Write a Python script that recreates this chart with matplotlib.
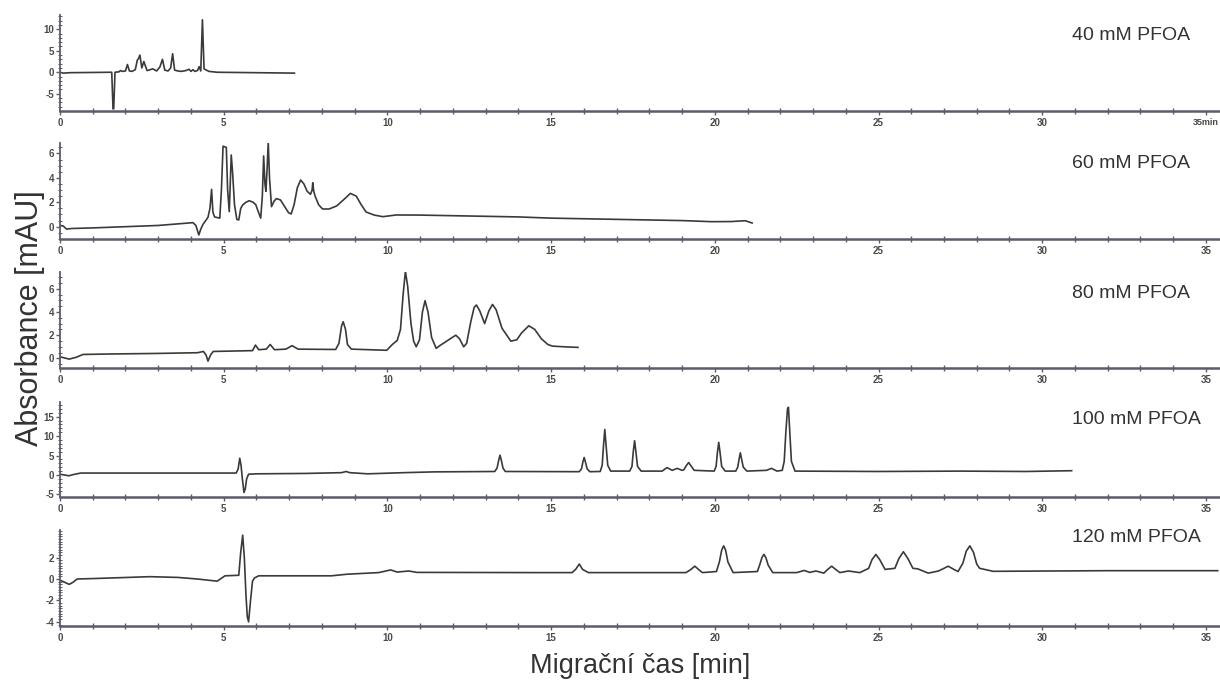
import matplotlib
matplotlib.use("Agg")
import matplotlib.pyplot as plt
from matplotlib.ticker import MultipleLocator

plt.rcParams['font.family'] = ['Liberation Sans', 'DejaVu Sans']

labels = ["40 mM PFOA", "60 mM PFOA", "80 mM PFOA", "100 mM PFOA", "120 mM PFOA"]

trace_40 = [(0.0, 0.0), (0.1, -0.2), (0.3, -0.1), (1.58, 0.0), (1.62, -8.5), (1.64, -8.5),
            (1.68, 0.0), (1.8, 0.1), (1.85, 0.4), (1.9, 0.2), (2.0, 0.3), (2.06, 1.8),
            (2.12, 0.3), (2.2, 0.2), (2.3, 0.6), (2.36, 2.8), (2.4, 3.2), (2.44, 4.0),
            (2.5, 1.0), (2.56, 2.5), (2.62, 1.2), (2.66, 0.4), (2.72, 0.5), (2.83, 0.8),
            (2.95, 0.3), (3.05, 1.2), (3.13, 3.0), (3.2, 0.5), (3.3, 0.3), (3.38, 1.0),
            (3.44, 4.3), (3.5, 0.5), (3.6, 0.3), (3.7, 0.2), (3.85, 0.4), (3.94, 0.7),
            (4.0, 0.2), (4.06, 0.6), (4.12, 0.2), (4.2, 0.4), (4.25, 1.3), (4.3, 0.3),
            (4.35, 12.2), (4.4, 0.8), (4.47, 0.5), (4.55, 0.2), (4.8, 0.0), (6.0, -0.1),
            (7.16, -0.2)]

trace_60 = [(0.0, 0.1), (0.1, 0.05), (0.2, -0.2), (0.35, -0.15), (1.0, -0.1), (2.0, 0.0),
            (3.0, 0.1), (4.06, 0.33), (4.15, 0.1), (4.24, -0.68), (4.3, -0.2), (4.37, 0.2),
            (4.45, 0.5), (4.52, 0.77), (4.58, 1.5), (4.63, 3.06), (4.67, 1.2), (4.72, 0.8),
            (4.8, 0.75), (4.88, 0.7), (4.93, 3.0), (4.98, 6.6), (5.08, 6.5), (5.12, 3.0),
            (5.17, 1.23), (5.2, 3.5), (5.23, 5.88), (5.27, 4.5), (5.33, 1.8), (5.4, 0.6),
            (5.46, 0.55), (5.52, 1.5), (5.58, 1.78), (5.68, 2.0), (5.78, 2.13), (5.9, 2.0),
            (5.98, 1.8), (6.06, 1.2), (6.13, 0.7), (6.18, 2.5), (6.22, 5.8), (6.26, 3.5),
            (6.29, 2.9), (6.33, 5.0), (6.36, 6.9), (6.4, 4.0), (6.46, 1.64), (6.54, 2.1),
            (6.61, 2.3), (6.73, 2.2), (6.85, 1.7), (6.98, 1.15), (7.06, 1.04), (7.15, 1.8),
            (7.25, 3.2), (7.35, 3.83), (7.45, 3.5), (7.55, 2.9), (7.65, 2.65), (7.7, 3.0),
            (7.72, 3.6), (7.75, 2.9), (7.8, 2.45), (7.9, 1.8), (8.02, 1.45), (8.22, 1.45),
            (8.45, 1.7), (8.7, 2.3), (8.87, 2.73), (9.05, 2.5), (9.2, 1.8), (9.35, 1.2),
            (9.6, 0.95), (9.86, 0.82), (10.27, 0.96), (11.0, 0.95), (12.0, 0.9), (13.0, 0.85),
            (14.0, 0.8), (15.0, 0.7), (16.0, 0.65), (17.0, 0.6), (18.0, 0.55), (19.0, 0.5),
            (19.9, 0.41), (20.5, 0.42), (20.93, 0.49), (21.14, 0.3)]

trace_80 = [(0.0, 0.14), (0.28, -0.06), (0.5, 0.1), (0.7, 0.34), (1.5, 0.38), (3.0, 0.43),
            (4.2, 0.49), (4.38, 0.6), (4.46, 0.3), (4.52, -0.23), (4.6, 0.3), (4.68, 0.6),
            (5.88, 0.67), (5.97, 1.15), (6.07, 0.75), (6.3, 0.8), (6.42, 1.2), (6.55, 0.75),
            (6.9, 0.8), (7.09, 1.1), (7.27, 0.8), (8.42, 0.77), (8.52, 1.3), (8.6, 2.8),
            (8.65, 3.16), (8.72, 2.5), (8.78, 1.2), (8.9, 0.8), (9.98, 0.7), (10.15, 1.2),
            (10.3, 1.55), (10.4, 2.5), (10.48, 5.5), (10.55, 7.5), (10.62, 6.2), (10.72, 3.0),
            (10.8, 1.5), (10.88, 1.0), (10.98, 1.6), (11.07, 4.0), (11.15, 4.97), (11.24, 4.0),
            (11.35, 1.8), (11.49, 0.87), (11.6, 1.1), (11.79, 1.45), (11.95, 1.75),
            (12.09, 2.0), (12.2, 1.7), (12.33, 1.0), (12.42, 1.3), (12.55, 3.2), (12.65, 4.4),
            (12.72, 4.6), (12.82, 4.1), (12.97, 3.0), (13.1, 4.1), (13.21, 4.65), (13.32, 4.2),
            (13.5, 2.6), (13.77, 1.49), (13.95, 1.6), (14.1, 2.2), (14.32, 2.81), (14.5, 2.5),
            (14.7, 1.7), (14.9, 1.2), (15.04, 1.06), (15.4, 1.0), (15.82, 0.95)]

trace_100 = [(0.0, 0.2), (0.27, -0.2), (0.45, 0.2), (0.64, 0.5), (3.0, 0.5), (5.38, 0.5),
             (5.44, 1.5), (5.49, 4.3), (5.53, 2.5), (5.57, -1.0), (5.62, -4.5), (5.66, -3.5),
             (5.7, -1.0), (5.76, 0.2), (6.0, 0.3), (7.5, 0.4), (8.6, 0.6), (8.74, 0.9),
             (8.85, 0.6), (9.4, 0.3), (10.5, 0.6), (11.43, 0.8), (13.28, 0.9), (13.35, 1.8),
             (13.4, 3.8), (13.44, 5.1), (13.48, 3.8), (13.53, 1.8), (13.6, 0.9), (15.86, 0.85),
             (15.93, 1.6), (15.97, 3.3), (16.01, 4.5), (16.05, 3.3), (16.1, 1.6), (16.18, 0.85),
             (16.5, 0.9), (16.56, 2.5), (16.6, 7.5), (16.64, 11.7), (16.68, 7.5), (16.73, 2.5),
             (16.82, 1.0), (17.4, 1.0), (17.47, 2.2), (17.51, 6.0), (17.55, 8.8), (17.59, 6.0),
             (17.64, 2.2), (17.75, 1.0), (18.39, 1.0), (18.54, 1.9), (18.7, 1.2), (18.85, 1.7),
             (19.0, 1.2), (19.05, 1.3), (19.13, 2.4), (19.2, 3.2), (19.27, 2.4), (19.37, 1.2),
             (19.98, 1.0), (20.04, 2.2), (20.08, 5.8), (20.12, 8.4), (20.16, 5.8), (20.21, 2.2),
             (20.32, 1.0), (20.64, 1.0), (20.7, 2.0), (20.74, 4.0), (20.78, 5.7), (20.82, 4.0),
             (20.87, 2.0), (20.98, 1.0), (21.58, 1.2), (21.73, 1.7), (21.9, 1.0), (22.06, 1.2),
             (22.12, 3.5), (22.17, 11.0), (22.22, 17.0), (22.25, 17.4), (22.29, 11.0),
             (22.34, 3.5), (22.45, 1.0), (25.0, 0.9), (27.5, 1.0), (29.5, 0.9), (30.9, 1.1)]

trace_120 = [(0.0, -0.1), (0.14, -0.3), (0.28, -0.5), (0.4, -0.3), (0.52, 0.0), (1.18, 0.06),
             (2.75, 0.22), (3.6, 0.15), (4.2, 0.0), (4.8, -0.2), (5.04, 0.3), (5.46, 0.35),
             (5.52, 2.5), (5.58, 4.1), (5.63, 2.0), (5.68, -1.5), (5.72, -3.5), (5.76, -4.0),
             (5.82, -2.0), (5.88, -0.2), (5.94, 0.1), (6.07, 0.3), (8.29, 0.3), (8.77, 0.45),
             (9.73, 0.6), (10.1, 0.85), (10.3, 0.65), (10.65, 0.75), (10.9, 0.62),
             (14.56, 0.6), (15.64, 0.6), (15.75, 0.9), (15.86, 1.4), (15.96, 0.9),
             (16.14, 0.6), (19.12, 0.6), (19.25, 0.85), (19.39, 1.2), (19.52, 0.85),
             (19.62, 0.6), (20.05, 0.7), (20.14, 1.6), (20.21, 2.7), (20.27, 3.1), (20.33, 2.7),
             (20.4, 1.6), (20.56, 0.6), (21.3, 0.7), (21.38, 1.4), (21.44, 2.0), (21.5, 2.3),
             (21.56, 2.0), (21.63, 1.3), (21.77, 0.6), (22.5, 0.6), (22.73, 0.8),
             (22.9, 0.62), (23.09, 0.75), (23.33, 0.55), (23.45, 0.9), (23.57, 1.2),
             (23.69, 0.9), (23.82, 0.6), (24.08, 0.75), (24.43, 0.6), (24.7, 1.0),
             (24.8, 1.8), (24.92, 2.3), (25.04, 1.8), (25.2, 0.9), (25.5, 1.0), (25.62, 1.9),
             (25.76, 2.55), (25.9, 1.9), (26.05, 1.0), (26.2, 0.95), (26.52, 0.55),
             (26.83, 0.75), (27.0, 1.0), (27.13, 1.2), (27.3, 0.9), (27.43, 0.7), (27.58, 1.5),
             (27.68, 2.6), (27.79, 3.1), (27.9, 2.5), (28.0, 1.4), (28.09, 1.0), (28.5, 0.72),
             (32.0, 0.78), (35.36, 0.78)]

traces = [trace_40, trace_60, trace_80, trace_100, trace_120]
yticks = [[-5, 0, 5, 10], [0, 2, 4, 6], [0, 2, 4, 6], [-5, 0, 5, 10, 15], [-4, -2, 0, 2]]
ylims = [(-8.93, 13.3), (-1.01, 6.86), (-0.8, 7.47), (-5.58, 18.84), (-4.36, 4.58)]
yminor = [1.0, 0.5, 0.5, 1.0, 0.25]
xticks = [0, 5, 10, 15, 20, 25, 30, 35]

# ---- layout (pixel boxes: top, bottom) ----
W, H = 1220, 681
boxes = [(15, 110.7), (143, 239), (271.7, 367.7), (401.7, 496.7), (530, 625.7)]
label_y = [35, 164, 293, 419, 538]
left_px, right_px = 60, 1219

fig = plt.figure(figsize=(W / 100, H / 100), dpi=100)
axis_col = '#5c5c6c'
line_col = '#3a3a3a'
txt_col = '#4a4a4a'

for i, (tr, (top, bot)) in enumerate(zip(traces, boxes)):
    ax = fig.add_axes([left_px / W, 1 - bot / H, (right_px - left_px) / W, (bot - top) / H])
    t = [p[0] for p in tr]
    v = [p[1] for p in tr]
    ax.plot(t, v, color=line_col, lw=1.2, solid_joinstyle='round')
    ax.set_xlim(0, 35.4)
    ax.set_ylim(*ylims[i])
    for s in ['top', 'right']:
        ax.spines[s].set_visible(False)
    for s in ['left', 'bottom']:
        ax.spines[s].set_color(axis_col)
    ax.spines['bottom'].set_linewidth(1.8)
    ax.spines['left'].set_linewidth(1.3)
    ax.set_xticks(xticks)
    xl = [str(x) for x in xticks]
    if i == 0:
        xl[-1] = '35min'
    ax.set_xticklabels(xl)
    ax.xaxis.set_minor_locator(MultipleLocator(1))
    ax.set_yticks(yticks[i])
    ax.set_yticklabels([str(y) for y in yticks[i]])
    ax.yaxis.set_minor_locator(MultipleLocator(yminor[i]))
    ax.tick_params(axis='x', which='major', direction='out', length=3, width=1,
                   color=axis_col, labelsize=7, labelcolor=txt_col, pad=2)
    ax.tick_params(axis='x', which='minor', direction='inout', length=4, width=1,
                   color=axis_col)
    ax.tick_params(axis='y', which='major', direction='out', length=3, width=1,
                   color=axis_col, labelsize=7, labelcolor=txt_col, pad=1)
    ax.tick_params(axis='y', which='minor', direction='inout', length=2.5, width=0.7,
                   color=axis_col)
    for lab in ax.get_xticklabels() + ax.get_yticklabels():
        lab.set_fontweight('bold')
    if i == 0:
        ax.get_xticklabels()[-1].set_fontsize(6.5)
    ax.patch.set_alpha(0)
    fig.text(1072 / W, 1 - label_y[i] / H, labels[i], fontsize=14, color='#333333',
             ha='left', va='center')

fig.text(30 / W, 1 - 318 / H, 'Absorbance [mAU]', rotation=90, fontsize=22,
         color='#333333', ha='center', va='center')
fig.text(640 / W, 1 - 666 / H, 'Migrační čas [min]', fontsize=19.5, color='#333333',
         ha='center', va='center')

fig.savefig('out.png', dpi=100)
